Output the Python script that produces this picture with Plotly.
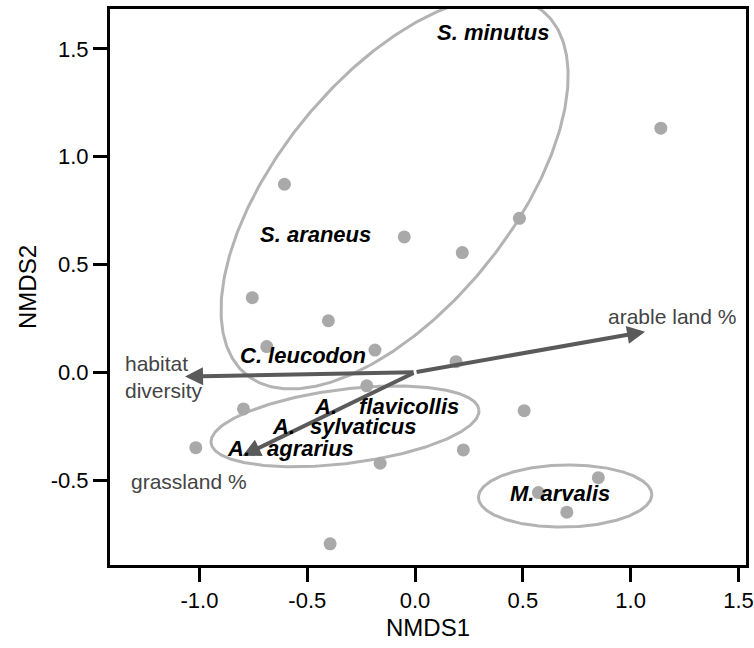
import numpy as np
import plotly.graph_objects as go

# ---- site scores (NMDS1, NMDS2) ----
site_x = [-0.606, -0.755, -0.402, -0.050, 0.219, 0.484, 1.140, -0.186, -0.688, 0.190,
          -0.224, -0.796, -1.017, 0.224, -0.162, 0.506, 0.850, 0.572, 0.704, -0.394]
site_y = [0.872, 0.346, 0.239, 0.628, 0.555, 0.714, 1.132, 0.103, 0.119, 0.049,
          -0.063, -0.170, -0.350, -0.360, -0.422, -0.178, -0.489, -0.558, -0.649, -0.796]

# ---- group ellipses: centre, semi-axes, rotation (deg) ----
ell_cx = [-0.095, -0.325, 0.696]
ell_cy = [0.832, -0.251, -0.574]
ell_a = [1.088, 0.626, 0.402]
ell_b = [0.540, 0.172, 0.144]
ell_ang = [50.8, 7.1, 1.0]

# ---- species labels ----
species = ["S. minutus", "S. araneus", "C. leucodon", "M. arvalis"]
species_x = [0.362, -0.464, -0.522, 0.673]
species_y = [1.577, 0.637, 0.080, -0.561]

apo_genus = ["A.", "A.", "A."]
apo_epithet = ["flavicollis", "sylvaticus", "agrarius"]
apo_genus_x = [-0.479, -0.673, -0.881]
apo_epithet_x = [-0.270, -0.495, -0.696]
apo_y = [-0.160, -0.252, -0.353]

# ---- environmental vectors ----
vec_names = ["arable land %", "habitat<br>diversity", "grassland %"]
vec_x = [1.067, -1.067, -0.800]
vec_y = [0.188, -0.020, -0.387]
vec_lab_x = [1.190, -1.354, -1.049]
vec_lab_y = [0.258, -0.020, -0.507]
vec_lab_anchor = ["center", "left", "center"]

x_ticks = [-1.0, -0.5, 0.0, 0.5, 1.0, 1.5]
y_ticks = [-0.5, 0.0, 0.5, 1.0, 1.5]

FONT = "Liberation Sans, Arial, sans-serif"
PT_GREY = "#a9a9a9"
ELL_GREY = "#b3b3b3"
VEC_GREY = "#5a5a5a"
LAB_GREY = "#444444"

fig = go.Figure()

t = np.linspace(0, 2 * np.pi, 361)
for cx, cy, a, b, ang in zip(ell_cx, ell_cy, ell_a, ell_b, ell_ang):
    th = np.deg2rad(ang)
    ex = cx + a * np.cos(t) * np.cos(th) - b * np.sin(t) * np.sin(th)
    ey = cy + a * np.cos(t) * np.sin(th) + b * np.sin(t) * np.cos(th)
    fig.add_trace(go.Scatter(x=ex, y=ey, mode="lines",
                             line=dict(color=ELL_GREY, width=3),
                             hoverinfo="skip", showlegend=False))

fig.add_trace(go.Scatter(x=site_x, y=site_y, mode="markers",
                         marker=dict(size=13, color=PT_GREY),
                         showlegend=False))

annotations = []
# vectors first so the labels sit on top of them
for x, y in zip(vec_x, vec_y):
    annotations.append(dict(x=x, y=y, ax=0, ay=0, xref="x", yref="y", axref="x", ayref="y",
                            text="", showarrow=True, arrowhead=2, arrowsize=0.9,
                            arrowwidth=4, arrowcolor=VEC_GREY))
for name, x, y, anc in zip(vec_names, vec_lab_x, vec_lab_y, vec_lab_anchor):
    annotations.append(dict(x=x, y=y, xref="x", yref="y", text=name, showarrow=False,
                            xanchor=anc, yanchor="middle", align="left",
                            font=dict(family=FONT, size=21, color=LAB_GREY)))
for name, x, y in zip(species, species_x, species_y):
    annotations.append(dict(x=x, y=y, xref="x", yref="y", text=f"<b><i>{name}</i></b>",
                            showarrow=False, xanchor="center", yanchor="middle",
                            font=dict(family=FONT, size=22, color="black")))
for g, e, gx, ex, y in zip(apo_genus, apo_epithet, apo_genus_x, apo_epithet_x, apo_y):
    for txt, xx in ((g, gx), (e, ex)):
        annotations.append(dict(x=xx, y=y, xref="x", yref="y", text=f"<b><i>{txt}</i></b>",
                                showarrow=False, xanchor="left", yanchor="middle",
                                font=dict(family=FONT, size=22, color="black")))

fig.update_layout(
    width=754, height=648,
    margin=dict(l=110, r=8, t=9, b=83),
    paper_bgcolor="white", plot_bgcolor="white",
    annotations=annotations,
    font=dict(family=FONT, color="black"),
    xaxis=dict(range=[-1.415, 1.535], tickvals=x_ticks, automargin=False,
               ticktext=[f"{v:.1f}" for v in x_ticks],
               showgrid=False, zeroline=False, showline=True, mirror=True,
               linecolor="black", linewidth=3, ticks="outside", ticklen=14,
               tickwidth=3, tickcolor="black", tickfont=dict(size=22, family=FONT),
               title=dict(text="NMDS1", font=dict(size=24, family=FONT), standoff=7)),
    yaxis=dict(range=[-0.894, 1.685], tickvals=y_ticks, automargin=False,
               ticktext=[f"{v:.1f}" for v in y_ticks],
               showgrid=False, zeroline=False, showline=True, mirror=True,
               linecolor="black", linewidth=3, ticks="outside", ticklen=14,
               tickwidth=3, tickcolor="black", tickfont=dict(size=22, family=FONT),
               title=dict(text="NMDS2", font=dict(size=24, family=FONT), standoff=8)),
)

fig.write_html("out.html")
